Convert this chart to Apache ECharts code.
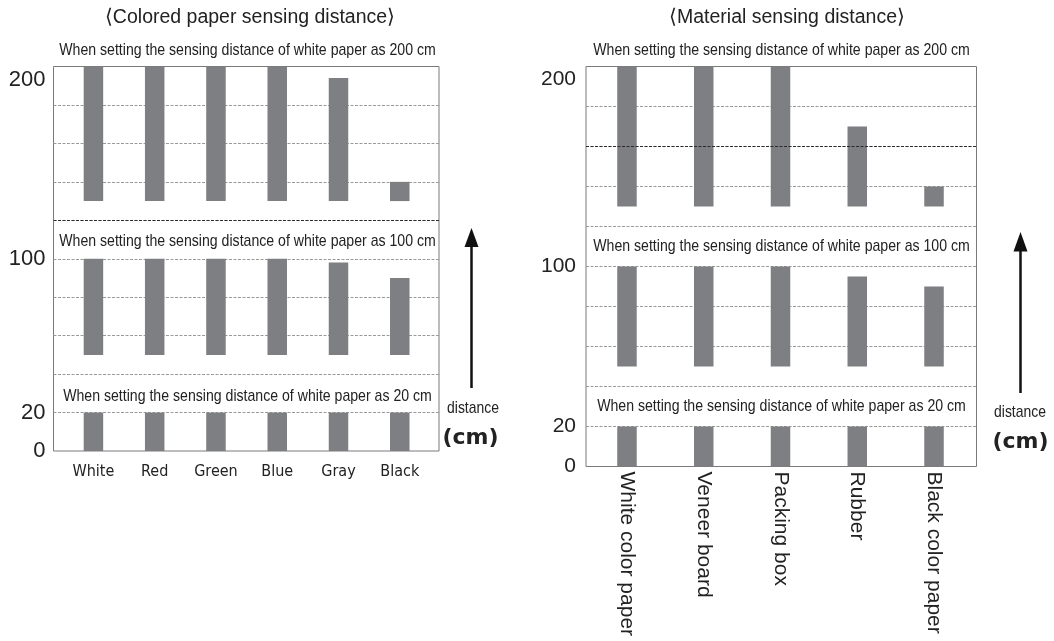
<!DOCTYPE html>
<html>
<head>
<meta charset="utf-8">
<script src="https://cdn.jsdelivr.net/npm/echarts@6/dist/echarts.min.js"></script>
<style>
html,body{margin:0;padding:0;background:#fff;}
#main{width:1054px;height:641px;}
</style>
</head>
<body>
<div id="main"></div>
<script>
// ---- data ----
var colorCategories = ['White', 'Red', 'Green', 'Blue', 'Gray', 'Black'];
var colorLow20 = [0, 0, 0, 0, 0, 0];
var colorHigh20 = [20, 20, 20, 20, 20, 20];
var colorLow100 = [50, 50, 50, 50, 50, 50];
var colorHigh100 = [100, 100, 100, 100, 98, 90];
var colorLow200 = [130, 130, 130, 130, 130, 130];
var colorHigh200 = [200, 200, 200, 200, 194, 140];

var materialCategories = ['White color paper', 'Veneer board', 'Packing box', 'Rubber', 'Black color paper'];
var matLow20 = [0, 0, 0, 0, 0];
var matHigh20 = [20, 20, 20, 20, 20];
var matLow100 = [50, 50, 50, 50, 50];
var matHigh100 = [100, 100, 100, 95, 90];
var matLow200 = [130, 130, 130, 130, 130];
var matHigh200 = [200, 200, 200, 170, 140];

var yTickLabels = {0: '0', 20: '20', 100: '100', 200: '200'};
var titles = ['\u27E8Colored paper sensing distance\u27E9', '\u27E8Material sensing distance\u27E9'];
var subTitles = [
  'When setting the sensing distance of white paper as 200 cm',
  'When setting the sensing distance of white paper as 100 cm',
  'When setting the sensing distance of white paper as 20 cm'
];

// ---- helpers ----
var BAR = '#7e7f83';
var SANS = '"Liberation Sans", Arial, sans-serif';
var COND = '"DejaVu Sans Condensed", "Liberation Sans Narrow", "Liberation Sans", sans-serif';

function diff(a, b) { return a.map(function (v, i) { return v - b[i]; }); }

function stackSeries(idx, stack, l20, h20, l100, h100, l200, h200) {
  var segs = [
    [l20, false],
    [diff(h20, l20), true],
    [diff(l100, h20), false],
    [diff(h100, l100), true],
    [diff(l200, h100), false],
    [diff(h200, l200), true]
  ];
  return segs.map(function (s) {
    return {
      type: 'bar', xAxisIndex: idx, yAxisIndex: idx, stack: stack,
      barWidth: 19.5, silent: true,
      itemStyle: { color: s[1] ? BAR : 'rgba(0,0,0,0)' },
      data: s[0]
    };
  });
}

function outerY(idx, size, margin) {
  return {
    type: 'value', gridIndex: idx, min: 0, max: 200, interval: 20,
    axisLine: { show: false }, axisTick: { show: false },
    axisLabel: {
      margin: margin, fontSize: size, color: '#222', fontFamily: SANS,
      formatter: function (v) {
        if (v === 200) return '{t|200}';
        return yTickLabels[v] || '';
      },
      rich: { t: { fontSize: size, color: '#222', padding: [26, 0, 0, 0], fontFamily: SANS } }
    },
    splitLine: { show: true, showMinLine: false, showMaxLine: false, lineStyle: { color: '#9a9a9a', type: [3, 1.5], width: 1 } }
  };
}
function innerY(idx) {
  return { type: 'value', gridIndex: idx, min: 0, max: 200, show: false, splitLine: { show: false } };
}

function sepLine(idx, value) {
  return {
    type: 'line', xAxisIndex: idx, yAxisIndex: idx, data: [], silent: true,
    markLine: {
      silent: true, symbol: 'none', label: { show: false },
      lineStyle: { color: '#2a2a2a', type: [3, 1.5], width: 1 },
      data: [{ yAxis: value }]
    }
  };
}

var chart = echarts.init(document.getElementById('main'), null, { renderer: 'canvas' });

var series = [];
series.push(sepLine(0, 120));
series.push(sepLine(2, 160));
series = series.concat(stackSeries(1, 'L', colorLow20, colorHigh20, colorLow100, colorHigh100, colorLow200, colorHigh200));
series = series.concat(stackSeries(3, 'R', matLow20, matHigh20, matLow100, matHigh100, matLow200, matHigh200));

function txt(x, y, s, font, size, sx, extra) {
  return { type: 'text', x: x, y: y, scaleX: sx || 1, silent: true,
    style: { text: s, font: (extra || '') + ' ' + size + 'px ' + font, fill: '#222', align: 'center', verticalAlign: 'middle' } };
}

var SUBSX = 0.83;
var graphics = [
  txt(250, 18, titles[0], SANS, 19.5),
  txt(787, 18, titles[1], SANS, 19.5),
  txt(247.5, 50, subTitles[0], SANS, 17, SUBSX),
  txt(247.5, 241, subTitles[1], SANS, 17, SUBSX),
  txt(247.5, 396, subTitles[2], SANS, 17, SUBSX),
  txt(781.5, 50, subTitles[0], SANS, 17, SUBSX),
  txt(781.5, 246.7, subTitles[1], SANS, 17, SUBSX),
  txt(781.5, 406.7, subTitles[2], SANS, 17, SUBSX),
  txt(473, 408, 'distance', SANS, 17, 0.82),
  txt(470.5, 438, '(cm)', '"DejaVu Sans", sans-serif', 22, 1, 'bold'),
  txt(1020, 412, 'distance', SANS, 17, 0.82),
  txt(1020.5, 442, '(cm)', '"DejaVu Sans", sans-serif', 22, 1, 'bold'),
  { type: 'line', silent: true, shape: { x1: 471.5, y1: 244, x2: 471.5, y2: 388 }, style: { stroke: '#111', lineWidth: 2.5 } },
  { type: 'polygon', silent: true, shape: { points: [[471.5, 228], [464.5, 247], [478.5, 247]] }, style: { fill: '#111' } },
  { type: 'line', silent: true, shape: { x1: 1020.5, y1: 249, x2: 1020.5, y2: 393 }, style: { stroke: '#111', lineWidth: 2.5 } },
  { type: 'polygon', silent: true, shape: { points: [[1020.5, 232], [1013.5, 251.5], [1027.5, 251.5]] }, style: { fill: '#111' } }
];

var option = {
  animation: false,
  backgroundColor: '#fff',
  grid: [
    { left: 53.5, top: 66.5, width: 385.5, height: 384.5, show: true, borderColor: '#7a7a7a', borderWidth: 1, backgroundColor: 'transparent' },
    { left: 62.8, top: 66.5, width: 367.6, height: 384.5 },
    { left: 586, top: 66.5, width: 390.5, height: 400, show: true, borderColor: '#7a7a7a', borderWidth: 1, backgroundColor: 'transparent' },
    { left: 588.6, top: 66.5, width: 383.8, height: 400 }
  ],
  xAxis: [
    { type: 'value', gridIndex: 0, min: 0, max: 1, show: false },
    { type: 'category', gridIndex: 1, data: colorCategories,
      axisLine: { show: false }, axisTick: { show: false },
      axisLabel: { margin: 13, fontSize: 16, color: '#222', fontFamily: COND, interval: 0 } },
    { type: 'value', gridIndex: 2, min: 0, max: 1, show: false },
    { type: 'category', gridIndex: 3, data: materialCategories,
      axisLine: { show: false }, axisTick: { show: false },
      axisLabel: { margin: 5, fontSize: 21, color: '#222', fontFamily: SANS, rotate: -90, interval: 0 } }
  ],
  yAxis: [
    outerY(0, 22, 8),
    innerY(1),
    outerY(2, 21, 10),
    innerY(3)
  ],
  series: series,
  graphic: graphics
};
chart.setOption(option);
</script>
</body>
</html>
